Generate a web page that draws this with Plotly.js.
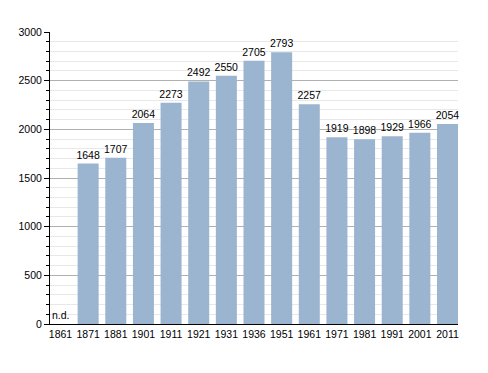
<!DOCTYPE html>
<html>
<head>
<meta charset="utf-8">
<script src="https://cdn.plot.ly/plotly-3.0.1.min.js"></script>
<style>html,body{margin:0;padding:0;background:#fff;}#chart{width:488px;height:373px;}</style>
</head>
<body>
<div id="chart"></div>
<script>
const years = ["1861","1871","1881","1901","1911","1921","1931","1936","1951","1961","1971","1981","1991","2001","2011"];
const population = [null,1648,1707,2064,2273,2492,2550,2705,2793,2257,1919,1898,1929,1966,2054];
const missingLabel = "n.d.";

const FONT = "Liberation Sans, Arial, Helvetica, sans-serif";

const trace = {
  type: "bar",
  x: years,
  y: population,
  marker: {color: "#9bb4d0"},
  text: population.map(v => v == null ? "" : String(v)),
  textposition: "outside",
  constraintext: "none",
  textfont: {family: FONT, size: 10.5, color: "#000"},
  cliponaxis: false
};

const annotations = population.map((v, i) => v == null ? {
  x: i, y: 0, xref: "x", yref: "y",
  text: missingLabel, showarrow: false,
  xanchor: "center", yanchor: "bottom", yshift: 1,
  font: {family: FONT, size: 10.5, color: "#000"}
} : null).filter(a => a);

const layout = {
  width: 488, height: 373,
  margin: {l: 50, r: 30, t: 32, b: 49},
  paper_bgcolor: "#fff", plot_bgcolor: "#fff",
  bargap: 0.24,
  showlegend: false,
  font: {family: FONT, size: 10.5, color: "#000"},
  xaxis: {
    type: "category",
    categoryorder: "array", categoryarray: years,
    range: [-0.38, years.length - 1 + 0.38],
    showgrid: false,
    showline: true, linecolor: "#000", linewidth: 1,
    ticks: "", tickfont: {family: FONT, size: 10.5, color: "#000"}
  },
  yaxis: {
    range: [0, 3000],
    dtick: 500,
    showgrid: true, gridcolor: "#b0b0b0", gridwidth: 1,
    showline: true, linecolor: "#000", linewidth: 1,
    ticks: "outside", ticklen: 5, tickcolor: "#000", tickwidth: 1,
    tickfont: {family: FONT, size: 10.5, color: "#000"},
    zeroline: false,
    minor: {dtick: 100, showgrid: true, gridcolor: "#e8e8e8", gridwidth: 1, ticks: "outside", ticklen: 3, tickcolor: "#000"}
  },
  annotations: annotations
};

Plotly.newPlot("chart", [trace], layout, {displayModeBar: false});
</script>
</body>
</html>
